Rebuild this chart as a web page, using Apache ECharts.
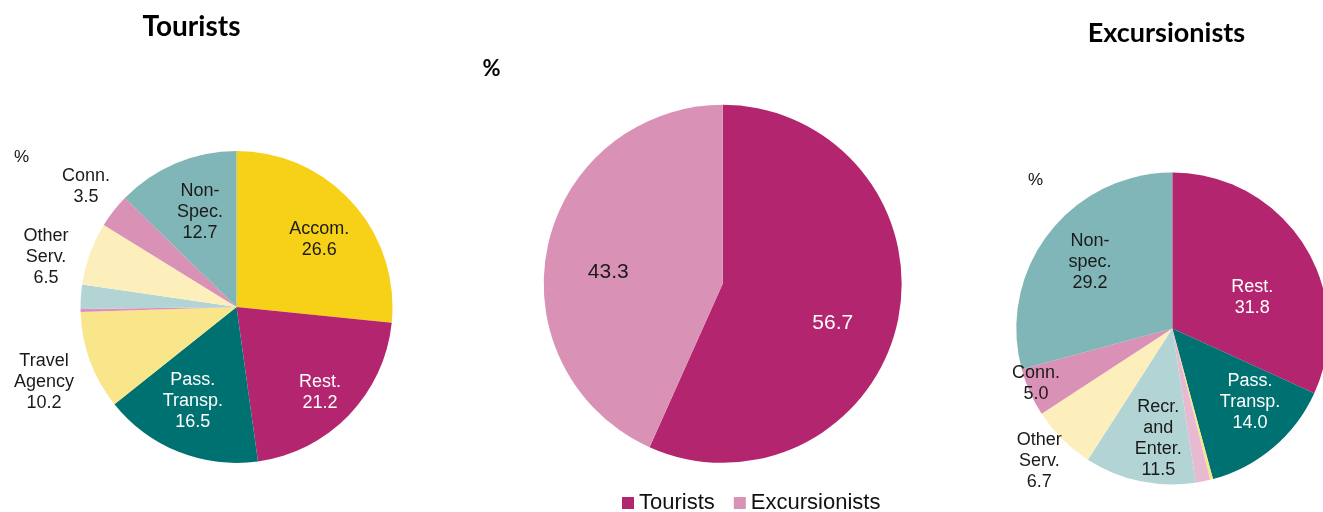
<!DOCTYPE html>
<html>
<head>
<meta charset="utf-8">
<script src="https://cdn.jsdelivr.net/npm/echarts@6/dist/echarts.min.js"></script>
<style>
  html, body { margin: 0; padding: 0; background: #fff; }
  #chart { width: 1323px; height: 512px; }
</style>
</head>
<body>
<div id="chart"></div>
<script>
// Spending categories, shared by both breakdown pies (percent shares)
const categories = ['Accom.', 'Rest.', 'Pass. Transp.', 'Travel Agency', 'Cultural',
  'Recr. and Enter.', 'Other Serv.', 'Conn.', 'Non-Spec.'];
const touristShares = [26.6, 21.2, 16.5, 10.2, 0.3, 2.5, 6.5, 3.5, 12.7];
const excursionistShares = [0, 31.8, 14.0, 0.3, 1.5, 11.5, 6.7, 5.0, 29.2];

// Label captions per slice ('' = slice left unlabelled)
const touristCaptions = ['Accom.', 'Rest.', 'Pass.\nTransp.', 'Travel\nAgency', '', '',
  'Other\nServ.', 'Conn.', 'Non-\nSpec.'];
const excursionistCaptions = ['', 'Rest.', 'Pass.\nTransp.', '', '', 'Recr.\nand\nEnter.',
  'Other\nServ.', 'Conn.', 'Non-\nspec.'];

// Split of total spending between visitor types
const visitorTypes = ['Tourists', 'Excursionists'];
const visitorShares = [56.7, 43.3];

// ---- styling ----
const MAGENTA = '#B4256F', PINK = '#D991B6', TEAL = '#007171', GREYTEAL = '#80B6B7';
const categoryColors = {
  tourists: ['#F6D118', MAGENTA, TEAL, '#FAE68A', '#DF8FBA', '#B2D4D5', '#FDEFBB', PINK, GREYTEAL],
  excursionists: ['#F6D118', MAGENTA, TEAL, '#FAE68A', '#E8BAD2', '#B2D4D5', '#FDEFBB', PINK, GREYTEAL]
};
const whiteText = new Set(['Rest.', 'Pass. Transp.', 'Tourists']);
// label placement: [radius fraction, angle shift from slice middle in degrees]
const touristPlace = [[0.684, 3], [0.765, 1.6], [0.663, 3.2], [1.325, -1.2], null, null,
  [1.262, -5.4], [1.237, 0.8], [0.65, 1.8]];
const excursionistPlace = [null, [0.549, 11.9], [0.684, -6.4], null, null, [0.71, -4.8],
  [1.203, 0.3], [0.942, 2.2], [0.678, 1.5]];
const visitorPlace = [[0.653, 7.7], [0.643, -6.1]];

const FONT = '"Liberation Sans", Arial, sans-serif';

// Build a pie's items, keeping slice order and dropping empty categories
function buildPie(names, values, colors, captions, places) {
  const items = [], place = [];
  names.forEach((n, i) => {
    if (!(values[i] > 0)) return;
    items.push({
      name: n, value: values[i],
      itemStyle: { color: colors[i] },
      label: {
        show: !!captions[i],
        formatter: captions[i] ? captions[i] + '\n' + values[i].toFixed(1) : '',
        color: whiteText.has(n) ? '#ffffff' : '#1a1a1a'
      }
    });
    place.push(places[i]);
  });
  return { items, place };
}

// Position of a label from the slice's angular middle (clockwise from 12 o'clock)
function polarLabel(items, place, center, radius) {
  const total = items.reduce((s, d) => s + d.value, 0);
  const starts = [];
  let acc = 0;
  items.forEach(d => { starts.push(acc); acc += d.value; });
  return function (params) {
    const i = params.dataIndex, p = place[i];
    if (!p) return {};
    const ang = ((starts[i] + items[i].value / 2) / total * 360 + p[1]) * Math.PI / 180;
    return {
      x: center[0] + p[0] * radius * Math.sin(ang),
      y: center[1] - p[0] * radius * Math.cos(ang),
      align: 'center', verticalAlign: 'middle'
    };
  };
}

const tour = buildPie(categories, touristShares, categoryColors.tourists, touristCaptions, touristPlace);
const excu = buildPie(categories, excursionistShares, categoryColors.excursionists, excursionistCaptions, excursionistPlace);
const vis = buildPie(visitorTypes, visitorShares, [MAGENTA, PINK],
  visitorShares.map(() => ''), visitorPlace);
vis.items.forEach(d => {
  d.label.show = true;
  d.label.formatter = d.value.toFixed(1);
  d.label.fontSize = 21;
});

const leftCenter = [236.5, 307], leftR = 156;
const midCenter = [722.7, 283.8], midR = 179;
const rightCenter = [1172.3, 328.5], rightR = 156;

function pieSeries(id, pie, center, r) {
  return {
    type: 'pie', id: id, name: id,
    center: center, radius: r,
    startAngle: 90, clockwise: true,
    silent: true, animation: false,
    itemStyle: { borderWidth: 0 },
    label: {
      position: 'inside', fontFamily: FONT, fontSize: 18, lineHeight: 21,
      align: 'center'
    },
    labelLine: { show: false },
    labelLayout: polarLabel(pie.items, pie.place, center, r),
    emphasis: { disabled: true },
    data: pie.items
  };
}

const chart = echarts.init(document.getElementById('chart'), null, { renderer: 'canvas' });
chart.setOption({
  backgroundColor: '#ffffff',
  animation: false,
  legend: {
    data: visitorTypes.map((n, i) => ({ name: n, itemStyle: { color: [MAGENTA, PINK][i] } })),
    left: 622, top: 492, padding: 0,
    itemWidth: 12, itemHeight: 12, itemGap: 19,
    icon: 'rect',
    selectedMode: false,
    textStyle: { fontFamily: FONT, fontSize: 22, color: '#111' }
  },
  graphic: [
    { type: 'text', x: 191.5, y: 27, silent: true,
      style: { text: 'Tourists', font: 'bold 28px Lato, sans-serif', fill: '#000',
        textAlign: 'center', textVerticalAlign: 'middle' } },
    { type: 'text', x: 1166.5, y: 33, silent: true,
      style: { text: 'Excursionists', font: 'bold 27px Lato, sans-serif', fill: '#000',
        textAlign: 'center', textVerticalAlign: 'middle' } },
    { type: 'text', x: 491.5, y: 69, silent: true,
      style: { text: '%', font: 'bold 22px Lato, sans-serif', fill: '#000',
        textAlign: 'center', textVerticalAlign: 'middle' } },
    { type: 'text', x: 21.5, y: 157, silent: true,
      style: { text: '%', font: '17px ' + FONT, fill: '#111',
        textAlign: 'center', textVerticalAlign: 'middle' } },
    { type: 'text', x: 1035.5, y: 180, silent: true,
      style: { text: '%', font: '17px ' + FONT, fill: '#111',
        textAlign: 'center', textVerticalAlign: 'middle' } }
  ],
  series: [
    pieSeries('touristSpend', tour, leftCenter, leftR),
    pieSeries('visitorSplit', vis, midCenter, midR),
    pieSeries('excursionistSpend', excu, rightCenter, rightR)
  ]
});
</script>
</body>
</html>
